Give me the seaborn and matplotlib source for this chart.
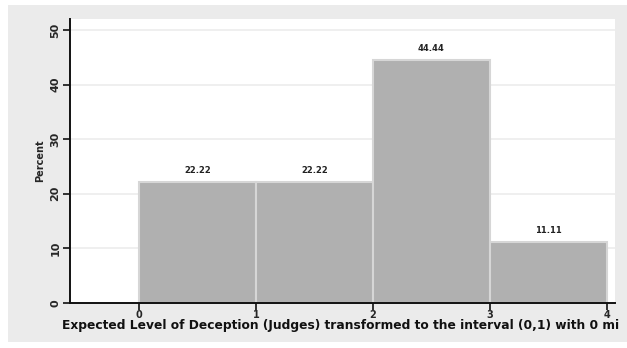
import matplotlib
matplotlib.use("Agg")
import matplotlib.pyplot as plt
from matplotlib.patches import Rectangle
import seaborn as sns

# Histogram of the transformed deception level (judges)
bin_left = [0, 1, 2, 3]
bin_edges = [0, 1, 2, 3, 4]
percent = [22.22, 22.22, 44.44, 11.11]
bar_labels = ["22.22", "22.22", "44.44", "11.11"]
y_ticks = [0, 10, 20, 30, 40, 50]
x_ticks = [0, 1, 2, 3, 4]
x_title = "Expected Level of Deception (Judges) transformed to the interval (0,1) with 0 mi"
y_title = "Percent"

sns.set_theme(style="white")
plt.rcParams["font.family"] = ["DejaVu Sans"]

W, H = 627, 348
fig = plt.figure(figsize=(W / 100, H / 100), dpi=100, facecolor="white")

# gray graph region behind the plot
fig.patches.append(Rectangle((8 / W, 1 - 342 / H), (W - 8) / W, (342 - 5) / H,
                             transform=fig.transFigure, facecolor="#ebebeb",
                             edgecolor="none", zorder=-10))

ax = fig.add_axes([70 / W, 1 - 303 / H, (615 - 70) / W, (303 - 19) / H])
ax.set_zorder(1)
ax.set_facecolor("white")

sns.histplot(x=bin_left, weights=percent, bins=bin_edges, stat="count",
             color="#b0b0b0", alpha=1, edgecolor="#d6d6d6", linewidth=1.5, ax=ax)

ax.bar_label(ax.containers[0], labels=bar_labels, padding=5,
             fontsize=6, fontweight="bold", color="#222222")

ax.set_xlim(-0.59, 4.07)
ax.set_ylim(0, 52)
ax.set_yticks(y_ticks)
ax.set_xticks(x_ticks)
for y in y_ticks[1:]:
    ax.axhline(y, color="#ececec", linewidth=1.2, zorder=0.5)
ax.set_axisbelow(True)

for s in ["top", "right"]:
    ax.spines[s].set_visible(False)
for s in ["left", "bottom"]:
    ax.spines[s].set_color("#111111")
    ax.spines[s].set_linewidth(1.4)

ax.tick_params(axis="both", which="major", direction="out", length=5, width=1.2,
               color="#111111", labelsize=8, pad=2, bottom=True, left=True)
ax.tick_params(axis="x", labelsize=7, pad=0)
for lab in ax.get_yticklabels():
    lab.set_rotation(90)
    lab.set_va("center")
    lab.set_fontweight("bold")
for lab in ax.get_xticklabels():
    lab.set_fontweight("bold")

ax.set_ylabel(y_title, fontsize=7, fontweight="bold", labelpad=4)
ax.set_xlabel("")
fig.text(62 / W, 1 - 325 / H, x_title, fontsize=8.8, fontweight="bold",
         ha="left", va="center", color="#111111")

fig.savefig("out.png", dpi=100, facecolor="white")
